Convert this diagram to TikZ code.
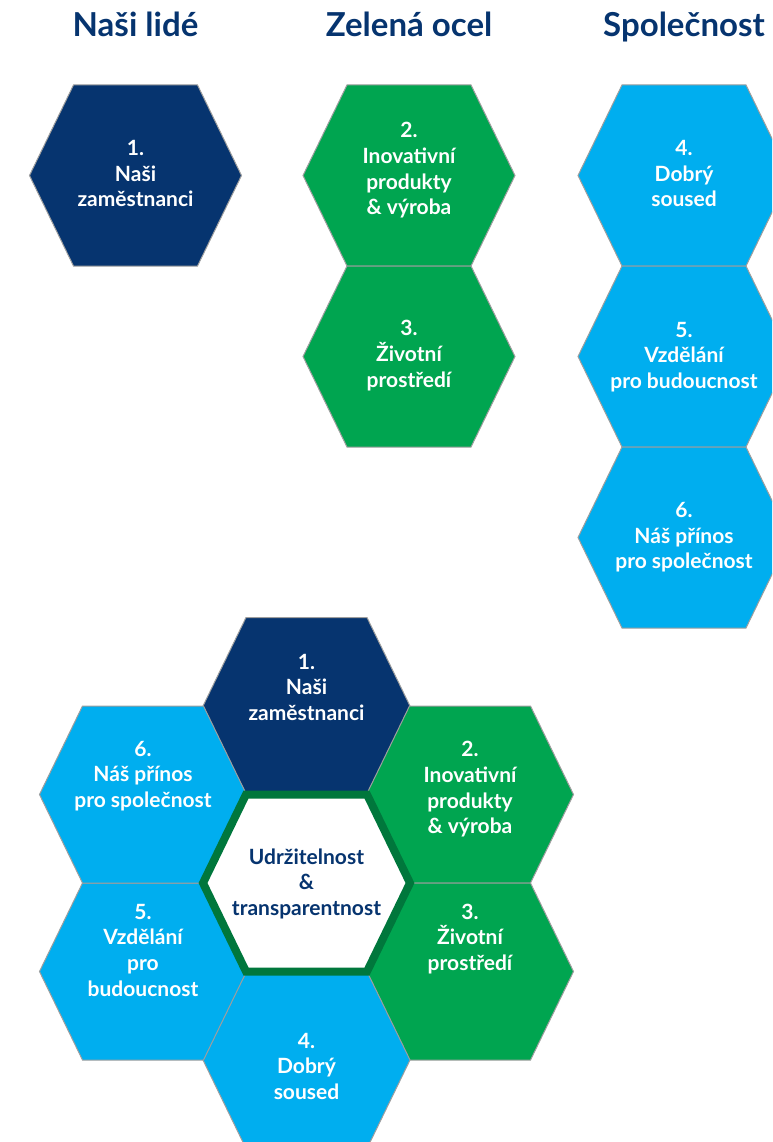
\documentclass[tikz,border=0pt]{standalone}
\usepackage{fontspec}
\setmainfont{Lato}
\definecolor{navy}{HTML}{06346F}
\definecolor{hexgreen}{HTML}{00A550}
\definecolor{hexblue}{HTML}{00AEEF}
\definecolor{darkgreen}{HTML}{00773C}
\definecolor{hexline}{HTML}{9E9E9E}
\newcommand\hexat[6]{\path[#1] ({#2-#4},#3) -- ({#2-#5},{#3-#6}) -- ({#2+#5},{#3-#6}) -- ({#2+#4},#3) -- ({#2+#5},{#3+#6}) -- ({#2-#5},{#3+#6}) -- cycle;}
\begin{document}
\begin{tikzpicture}[x=1pt,y=-1pt,
  navyhex/.style={fill=navy,draw=hexline,line width=1pt,line join=miter},
  greenhex/.style={fill=hexgreen,draw=hexline,line width=1pt,line join=miter},
  bluehex/.style={fill=hexblue,draw=hexline,line width=1pt,line join=miter},
  centerhex/.style={fill=white,draw=darkgreen,line width=8pt,line join=miter},
  hextext/.style={text=white,font=\bfseries\fontsize{21}{25.7}\selectfont,align=center,inner sep=0pt,
    execute at begin node=\strut,execute at end node=\strut},
  centertext/.style={hextext,text=navy},
  title/.style={text=navy,font=\bfseries\fontsize{33}{40}\selectfont,anchor=base,inner sep=0pt}]
\useasboundingbox (0,0) rectangle (772,1142);
\clip (0,0) rectangle (772,1142);
% titles
\node[title] (t1) at (135.5,37) {Naši lidé};
\node[title] (t2) at (409,37) {Zelená ocel};
\node[title] (t3) at (684,37) {Společnost};
% top hexagons
\hexat{navyhex}{135.5}{175.5}{106}{62}{90.5}
\hexat{greenhex}{409}{175.5}{106}{62}{90.5}
\hexat{greenhex}{409}{356.5}{106}{62}{90.5}
\hexat{bluehex}{684}{175.5}{106}{62}{90.5}
\hexat{bluehex}{684}{356.5}{106}{62}{90.5}
\hexat{bluehex}{684}{537.5}{106}{62}{90.5}
\node[hextext] (a1) at (135.5,177.5) {1.\\Naši\\zaměstnanci};
\node[hextext] (a2) at (409,172.5) {2.\\Inovativní\\produkty\\\& výroba};
\node[hextext] (a3) at (409,357.5) {3.\\Životní\\prostředí};
\node[hextext] (a4) at (684,177.5) {4.\\Dobrý\\soused};
\node[hextext] (a5) at (684,359) {5.\\Vzdělání\\pro budoucnost};
\node[hextext] (a6) at (684,539.5) {6.\\Náš přínos\\pro společnost};
% honeycomb
\hexat{navyhex}{306.5}{706}{103.5}{60.5}{88.5}
\hexat{greenhex}{470}{794.5}{103.5}{60.5}{88.5}
\hexat{greenhex}{470}{971.5}{103.5}{60.5}{88.5}
\hexat{bluehex}{306.5}{1060}{103.5}{60.5}{88.5}
\hexat{bluehex}{143}{971.5}{103.5}{60.5}{88.5}
\hexat{bluehex}{143}{794.5}{103.5}{60.5}{88.5}
\hexat{centerhex}{306.5}{883}{103.5}{60.5}{88.5}
\node[hextext] (b1) at (306.5,691) {1.\\Naši\\zaměstnanci};
\node[hextext] (b2) at (470,791.5) {2.\\Inovativní\\produkty\\\& výroba};
\node[hextext] (b3) at (470,941) {3.\\Životní\\prostředí};
\node[hextext] (b4) at (306.5,1070) {4.\\Dobrý\\soused};
\node[hextext] (b5) at (143,954) {5.\\Vzdělání\\pro\\budoucnost};
\node[hextext] (b6) at (143,778) {6.\\Náš přínos\\pro společnost};
\node[centertext] (c) at (306.5,886) {Udržitelnost\\\&\\transparentnost};
\end{tikzpicture}
\end{document}
